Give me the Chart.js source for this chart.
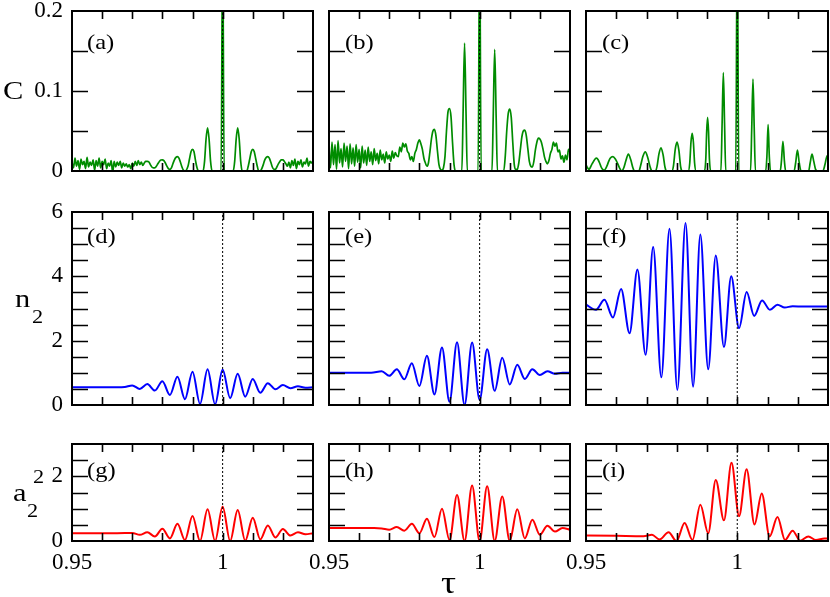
<!DOCTYPE html>
<html>
<head>
<meta charset="utf-8">
<script src="https://cdn.jsdelivr.net/npm/chart.js@4.4.1/dist/chart.umd.min.js"></script>
<style>
  body { margin: 0; background: #fff; }
  #wrap { position: relative; width: 830px; height: 597px; overflow: hidden; font-family: 'Liberation Serif', 'Times New Roman', serif; }
  #wrap canvas { position: absolute; left: 0; top: 0; }
  .t { position: absolute; line-height: 1; white-space: nowrap; color: #000; transform: scaleX(1.17); transform-origin: 0 0; }
</style>
</head>
<body>
<div id="wrap">
  <div class="t" style="left:3px;top:78px;font-size:26px">C</div>
  <div class="t" style="left:15px;top:286px;font-size:26px">n</div>
  <div class="t" style="left:32px;top:307px;font-size:19px">2</div>
  <div class="t" style="left:13px;top:480px;font-size:26px">a</div>
  <div class="t" style="left:27px;top:501px;font-size:19px">2</div>
  <div class="t" style="left:33px;top:467px;font-size:19px">2</div>
  <div class="t" style="left:441px;top:566px;font-size:32px">τ</div>
</div>
<script>
// x axis (tau) and reference line
const xMin = 0.95, xMax = 1.03, xStep = 0.01;
const xTickLabels = [0.95, 1];
const refTau = 1;

// y axis ticks per row
const yLabelsC = [0, 0.1, 0.2];
const yLabelsN = [0, 2, 4, 6];
const yLabelsA = [0, 2];

const panelNames = ['(a)', '(b)', '(c)', '(d)', '(e)', '(f)', '(g)', '(h)', '(i)'];

// (a) C
const tauA = [
  0.9500, 0.9505, 0.9510, 0.9515, 0.9520, 0.9525, 0.9530, 0.9535, 0.9540, 0.9545,
  0.9550, 0.9555, 0.9560, 0.9565, 0.9570, 0.9575, 0.9580, 0.9585, 0.9590, 0.9595,
  0.9600, 0.9605, 0.9610, 0.9615, 0.9620, 0.9625, 0.9630, 0.9635, 0.9640, 0.9645,
  0.9650, 0.9655, 0.9660, 0.9665, 0.9670, 0.9675, 0.9680, 0.9685, 0.9690, 0.9695,
  0.9700, 0.9705, 0.9710, 0.9715, 0.9720, 0.9725, 0.9730, 0.9735, 0.9740, 0.9745,
  0.9750, 0.9755, 0.9760, 0.9765, 0.9770, 0.9775, 0.9780, 0.9785, 0.9790, 0.9795,
  0.9800, 0.9805, 0.9810, 0.9815, 0.9820, 0.9825, 0.9830, 0.9835, 0.9840, 0.9845,
  0.9850, 0.9855, 0.9860, 0.9865, 0.9870, 0.9875, 0.9885, 0.9890, 0.9895, 0.9900,
  0.9905, 0.9910, 0.9915, 0.9920, 0.9935, 0.9940, 0.9945, 0.9950, 0.9955, 0.9960,
  0.9965, 0.9995, 1.0000, 1.0005, 1.0035, 1.0040, 1.0045, 1.0050, 1.0055, 1.0060,
  1.0065, 1.0080, 1.0085, 1.0090, 1.0095, 1.0100, 1.0105, 1.0110, 1.0115, 1.0120,
  1.0125, 1.0130, 1.0135, 1.0140, 1.0145, 1.0150, 1.0155, 1.0160, 1.0165, 1.0170,
  1.0175, 1.0180, 1.0185, 1.0190, 1.0195, 1.0200, 1.0205, 1.0210, 1.0215, 1.0220,
  1.0225, 1.0230, 1.0235, 1.0240, 1.0245, 1.0250, 1.0255, 1.0260, 1.0265, 1.0270,
  1.0275, 1.0280, 1.0285, 1.0290, 1.0295, 1.0300
];
const cA = [
  .011, .004, .016, .006, .013, .002, .015, .008, .012, .003,
  .017, .005, .011, .007, .014, .001, .013, .006, .016, .004,
  .012, .008, .015, .003, .010, .006, .013, -.002, .012, .005,
  .011, .007, .012, .004, .010, .006, .009, .005, .008, .003,
  .010, .006, .012, .007, .013, .008, .011, .007, .010, .012,
  .012, .0115, .008, .005, .004, .004, .006, .009, .012, .0138,
  .014, .013, .010, .006, .003, .002, .004, .009, .014, .017,
  .018, .016, .011, .005, .001, 0, .006, .015, .024, .027,
  .024, .013, .004, 0, 0, .012, .040, .054, .040, .012,
  0, 0, .3, 0, 0, .012, .040, .054, .040, .012,
  0, 0, .006, .015, .024, .027, .024, .015, .006, 0,
  0, .003, .008, .014, .017, .018, .016, .011, .005, .002,
  .002, .005, .009, .012, .014, .014, .012, .009, .006, .011,
  .004, .013, .007, .015, .003, .012, .008, .014, .005, .011,
  .009, .016, .006, .012, .010, .013
];

// (b) C
const tauB = [
  0.9500, 0.9505, 0.9510, 0.9515, 0.9520, 0.9525, 0.9530, 0.9535, 0.9540, 0.9545,
  0.9550, 0.9555, 0.9560, 0.9565, 0.9570, 0.9575, 0.9580, 0.9585, 0.9590, 0.9595,
  0.9600, 0.9605, 0.9610, 0.9615, 0.9620, 0.9625, 0.9630, 0.9635, 0.9640, 0.9645,
  0.9650, 0.9655, 0.9660, 0.9665, 0.9670, 0.9675, 0.9680, 0.9685, 0.9690, 0.9695,
  0.9700, 0.9705, 0.9710, 0.9715, 0.9720, 0.9725, 0.9730, 0.9735, 0.9740, 0.9745,
  0.9750, 0.9755, 0.9760, 0.9765, 0.9770, 0.9775, 0.9780, 0.9785, 0.9790, 0.9795,
  0.9800, 0.9805, 0.9810, 0.9815, 0.9820, 0.9825, 0.9830, 0.9835, 0.9840, 0.9845,
  0.9850, 0.9855, 0.9860, 0.9865, 0.9870, 0.9875, 0.9880, 0.9885, 0.9890, 0.9895,
  0.9900, 0.9905, 0.9910, 0.9915, 0.9920, 0.9941, 0.9945, 0.9950, 0.9955, 0.9959,
  0.9995, 1.0000, 1.0005, 1.0041, 1.0045, 1.0050, 1.0055, 1.0059, 1.0080, 1.0085,
  1.0090, 1.0095, 1.0100, 1.0105, 1.0110, 1.0115, 1.0120, 1.0125, 1.0130, 1.0135,
  1.0140, 1.0145, 1.0150, 1.0155, 1.0160, 1.0165, 1.0170, 1.0175, 1.0180, 1.0185,
  1.0190, 1.0195, 1.0200, 1.0205, 1.0210, 1.0215, 1.0220, 1.0225, 1.0230, 1.0235,
  1.0240, 1.0245, 1.0250, 1.0255, 1.0260, 1.0265, 1.0270, 1.0275, 1.0280, 1.0285,
  1.0290, 1.0295, 1.0300
];
const cB = [
  .030, .004, .036, .008, .033, .002, .038, .010, .028, .005,
  .035, .012, .031, .003, .034, .009, .029, .006, .033, .011,
  .027, .004, .031, .010, .026, .007, .030, .012, .024, .008,
  .028, .013, .022, .009, .026, .014, .021, .010, .024, .015,
  .020, .012, .025, .016, .023, .019, .018, .030, .024, .035,
  .030, .034, .025, .022, .014, .018, .012, .022, .027, .035,
  .039, .034, .027, .016, .010, .006, .010, .024, .040, .050,
  .052, .044, .025, .008, .002, .001, .004, .018, .050, .074,
  .078, .068, .036, .008, 0, 0, .07, .16, .07, 0,
  0, .3, 0, 0, .065, .152, .065, 0, 0, .018,
  .050, .072, .0775, .067, .036, .008, .002, .002, .010, .026,
  .042, .050, .051, .044, .028, .012, .006, .005, .012, .026,
  .036, .041, .040, .036, .028, .018, .012, .009, .013, .022,
  .027, .036, .031, .035, .024, .026, .015, .019, .011, .020,
  .014, .027, .024
];

// (c) C
const tauC = [
  0.9500, 0.9505, 0.9510, 0.9515, 0.9520, 0.9525, 0.9530, 0.9535, 0.9540, 0.9545,
  0.9550, 0.9555, 0.9560, 0.9565, 0.9570, 0.9575, 0.9580, 0.9589, 0.9597, 0.9605,
  0.9612, 0.9618, 0.9625, 0.9632, 0.9640, 0.9648, 0.9655, 0.9660, 0.9675, 0.9680,
  0.9688, 0.9696, 0.9704, 0.9712, 0.9718, 0.9730, 0.9735, 0.9741, 0.9748, 0.9755,
  0.9761, 0.9766, 0.9784, 0.9789, 0.9795, 0.9801, 0.9807, 0.9813, 0.9818, 0.9838,
  0.9843, 0.9847, 0.9851, 0.9855, 0.9859, 0.9864, 0.9892, 0.9896, 0.9899, 0.9902,
  0.9905, 0.9908, 0.9912, 0.9946, 0.9950, 0.9954, 0.9958, 0.9962, 0.9995, 1.0000,
  1.0005, 1.0044, 1.0048, 1.0052, 1.0056, 1.0060, 1.0094, 1.0098, 1.0102, 1.0106,
  1.0110, 1.0142, 1.0146, 1.0151, 1.0156, 1.0160, 1.0188, 1.0193, 1.0199, 1.0205,
  1.0211, 1.0236, 1.0241, 1.0247, 1.0253, 1.0259, 1.0265, 1.0283, 1.0290, 1.0297,
  1.0300
];
const cC = [
  .008, .004, .002, .005, .009, .012, .015, .016, .014, .010,
  .005, .002, .001, .003, .007, .012, .016, .018, .015, .009,
  .003, 0, .004, .013, .021, .014, .004, 0, 0, .006,
  .018, .024, .017, .005, 0, 0, .006, .021, .029, .020,
  .005, 0, 0, .006, .027, .036, .026, .005, 0, 0,
  .010, .036, .047, .036, .010, 0, 0, .015, .050, .067,
  .050, .015, 0, 0, .06, .123, .06, 0, 0, .3,
  0, 0, .055, .115, .055, 0, 0, .018, .058, .018,
  0, 0, .012, .037, .012, 0, 0, .010, .026, .010,
  0, 0, .010, .021, .012, .002, 0, 0, .008, .019,
  .015
];

// (d) n2
const tauD = [0.9500, 0.9650, 0.9675, 0.9700, 0.9725, 0.9750, 0.9775, 0.9800, 0.9825, 0.9850,
  0.9875, 0.9900, 0.9925, 0.9950, 0.9975, 1.0000, 1.0025, 1.0050, 1.0075, 1.0100,
  1.0125, 1.0150, 1.0175, 1.0200, 1.0225, 1.0250, 1.0275, 1.0300];
const nD = [0.55, 0.55, 0.56, 0.61, 0.50, 0.65, 0.45, 0.74, 0.31, 0.88,
  0.18, 1.03, 0.03, 1.11, 0.02, 1.10, 0.21, 0.97, 0.26, 0.81,
  0.38, 0.68, 0.49, 0.62, 0.52, 0.58, 0.54, 0.55];

// (e) n2
const tauE = [0.9500, 0.9640, 0.9675, 0.9700, 0.9725, 0.9750, 0.9775, 0.9800, 0.9825, 0.9850,
  0.9875, 0.9900, 0.9925, 0.9950, 0.9975, 1.0000, 1.0025, 1.0050, 1.0075, 1.0100,
  1.0125, 1.0150, 1.0175, 1.0200, 1.0225, 1.0250, 1.0275, 1.0300];
const nE = [1.00, 1.00, 1.05, 0.91, 1.11, 0.80, 1.30, 0.59, 1.53, 0.33,
  1.79, 0.10, 1.95, 0.00, 1.94, 0.16, 1.73, 0.44, 1.47, 0.64,
  1.25, 0.81, 1.11, 0.93, 1.05, 0.97, 1.00, 1.00];

// (f) n2
const tauF = [0.9500, 0.9533, 0.9561, 0.9589, 0.9616, 0.9644, 0.9670, 0.9697, 0.9722, 0.9749,
  0.9776, 0.9802, 0.9829, 0.9854, 0.9878, 0.9904, 0.9929, 0.9956, 0.9980, 1.0006,
  1.0031, 1.0056, 1.0082, 1.0108, 1.0133, 1.0157, 1.0183, 1.0220, 1.0300];
const nF = [3.12, 2.96, 3.27, 2.72, 3.61, 2.23, 4.21, 1.56, 4.91, 0.86,
  5.48, 0.47, 5.66, 0.57, 5.30, 1.11, 4.65, 1.80, 4.00, 2.39,
  3.51, 2.77, 3.25, 2.96, 3.12, 3.03, 3.07, 3.06, 3.06];

// (g) a2^2
const tauG = [0.9500, 0.9650, 0.9700, 0.9725, 0.9750, 0.9775, 0.9800, 0.9825, 0.9850, 0.9875,
  0.9900, 0.9925, 0.9950, 0.9975, 1.0000, 1.0025, 1.0050, 1.0075, 1.0100, 1.0125,
  1.0150, 1.0175, 1.0200, 1.0225, 1.0250, 1.0275, 1.0300];
const aG = [0.24, 0.24, 0.25, 0.19, 0.27, 0.14, 0.38, 0.08, 0.53, 0.03,
  0.77, 0.00, 0.98, 0.00, 1.06, 0.00, 0.96, 0.01, 0.72, 0.05,
  0.48, 0.11, 0.37, 0.17, 0.27, 0.21, 0.24];

// (h) a2^2
const tauH = [0.9500, 0.9650, 0.9675, 0.9700, 0.9725, 0.9750, 0.9775, 0.9800, 0.9825, 0.9850,
  0.9875, 0.9900, 0.9925, 0.9950, 0.9975, 1.0000, 1.0025, 1.0050, 1.0075, 1.0100,
  1.0125, 1.0150, 1.0175, 1.0200, 1.0225, 1.0250, 1.0275, 1.0300];
const aH = [0.40, 0.40, 0.39, 0.35, 0.43, 0.32, 0.53, 0.24, 0.69, 0.12,
  1.00, 0.03, 1.42, 0.00, 1.72, 0.00, 1.69, 0.00, 1.38, 0.01,
  0.98, 0.08, 0.66, 0.19, 0.47, 0.29, 0.40, 0.35];

// (i) a2^2
const tauI = [0.9500, 0.9600, 0.9690, 0.9718, 0.9743, 0.9773, 0.9799, 0.9826, 0.9852, 0.9878,
  0.9904, 0.9929, 0.9956, 0.9981, 1.0006, 1.0031, 1.0057, 1.0081, 1.0107, 1.0133,
  1.0158, 1.0183, 1.0208, 1.0235, 1.0260, 1.0288, 1.0300];
const aI = [0.17, 0.16, 0.15, 0.19, 0.05, 0.27, 0.00, 0.56, 0.03, 1.12,
  0.24, 1.89, 0.64, 2.42, 0.77, 2.22, 0.51, 1.47, 0.14, 0.74,
  0.03, 0.32, 0.01, 0.14, 0.03, 0.08, 0.08];

// layout (pixel boxes of the plot areas)
const cols = [[72, 313], [329, 570], [586, 828]];
const rows = [[11, 171], [212, 405], [444, 541]];
const labelTop = [32, 226, 460];
const labelLeft = [87, 345, 602];
const yAxisW = 62, xAxisH = 48;

const rowStyle = [
  { color: '#008c00', width: 1.7, max: 0.2, step: 0.05, labels: yLabelsC },
  { color: '#0000ff', width: 2, max: 6, step: 0.5, labels: yLabelsN },
  { color: '#ff0000', width: 2, max: 3, step: 0.5, labels: yLabelsA }
];

const panels = [
  [tauA, cA], [tauB, cB], [tauC, cC],
  [tauD, nD], [tauE, nE], [tauF, nF],
  [tauG, aG], [tauH, aH], [tauI, aI]
];

const tickFont = { family: "'Liberation Serif', 'Times New Roman', serif", size: 23 };

// frame with inward ticks on all four sides
const framePlugin = {
  id: 'frame',
  afterDatasetsDraw(chart) {
    const { ctx, chartArea: a, scales: { x, y } } = chart;
    ctx.save();
    ctx.strokeStyle = '#000';
    ctx.lineWidth = 1.6;
    ctx.beginPath();
    x.ticks.forEach(t => {
      const px = Math.round(x.getPixelForValue(t.value)) + 0.5;
      if (px < a.left + 2 || px > a.right - 2) return;
      ctx.moveTo(px, a.bottom); ctx.lineTo(px, a.bottom - 8);
      ctx.moveTo(px, a.top); ctx.lineTo(px, a.top + 8);
    });
    y.ticks.forEach(t => {
      const py = Math.round(y.getPixelForValue(t.value)) + 0.5;
      if (py < a.top + 2 || py > a.bottom - 2) return;
      ctx.moveTo(a.left, py); ctx.lineTo(a.left + 16, py);
      ctx.moveTo(a.right, py); ctx.lineTo(a.right - 16, py);
    });
    ctx.stroke();
    ctx.lineWidth = 2;
    ctx.strokeRect(a.left, a.top, a.right - a.left, a.bottom - a.top);
    ctx.restore();
  }
};

function pickLabel(list, v) {
  const hit = list.find(l => Math.abs(l - v) < 1e-6);
  return hit === undefined ? '' : String(hit);
}

function zeroPad(s) {
  s.paddingTop = 0; s.paddingBottom = 0; s.paddingLeft = 0; s.paddingRight = 0;
}

const wrap = document.getElementById('wrap');

panels.forEach(([tau, vals], i) => {
  const r = Math.floor(i / 3), c = i % 3;
  const st = rowStyle[r];
  const [left, right] = cols[c];
  const [top, bottom] = rows[r];
  const yW = c === 0 ? yAxisW : 0;
  const xH = r === 2 ? xAxisH : 0;

  const cv = document.createElement('canvas');
  cv.width = 830;
  cv.height = 597;
  wrap.insertBefore(cv, wrap.firstChild);

  new Chart(cv, {
    type: 'line',
    data: {
      datasets: [
        {
          data: [{ x: refTau, y: 0 }, { x: refTau, y: st.max }],
          borderColor: '#000', borderWidth: 1, borderDash: [2, 2], pointRadius: 0
        },
        {
          data: tau.map((x, k) => ({ x: x, y: vals[k] })),
          borderColor: st.color, borderWidth: st.width, pointRadius: 0,
          cubicInterpolationMode: 'monotone'
        }
      ]
    },
    options: {
      responsive: false,
      animation: false,
      devicePixelRatio: 1,
      events: [],
      layout: { padding: { left: left - yW, top: top, right: 830 - right, bottom: 597 - bottom - xH } },
      plugins: { legend: { display: false }, tooltip: { enabled: false } },
      scales: {
        x: {
          type: 'linear', min: xMin, max: xMax,
          afterFit: s => { s.height = xH; zeroPad(s); },
          grid: { display: false, drawTicks: false },
          border: { display: false },
          ticks: {
            display: r === 2, stepSize: xStep, autoSkip: false, maxRotation: 0,
            padding: 8, color: '#000', font: tickFont,
            callback: v => pickLabel(xTickLabels, +v.toFixed(4))
          }
        },
        y: {
          type: 'linear', min: 0, max: st.max,
          afterFit: s => { s.width = yW; zeroPad(s); },
          grid: { display: false, drawTicks: false },
          border: { display: false },
          ticks: {
            display: c === 0, stepSize: st.step, autoSkip: false,
            padding: 9, color: '#000', font: tickFont,
            callback: v => pickLabel(st.labels, +v.toFixed(4))
          }
        }
      }
    },
    plugins: [framePlugin]
  });

  const lab = document.createElement('div');
  lab.className = 't';
  lab.style.left = labelLeft[c] + 'px';
  lab.style.top = labelTop[r] + 'px';
  lab.style.fontSize = '21px';
  lab.textContent = panelNames[i];
  wrap.appendChild(lab);
});
</script>
</body>
</html>
